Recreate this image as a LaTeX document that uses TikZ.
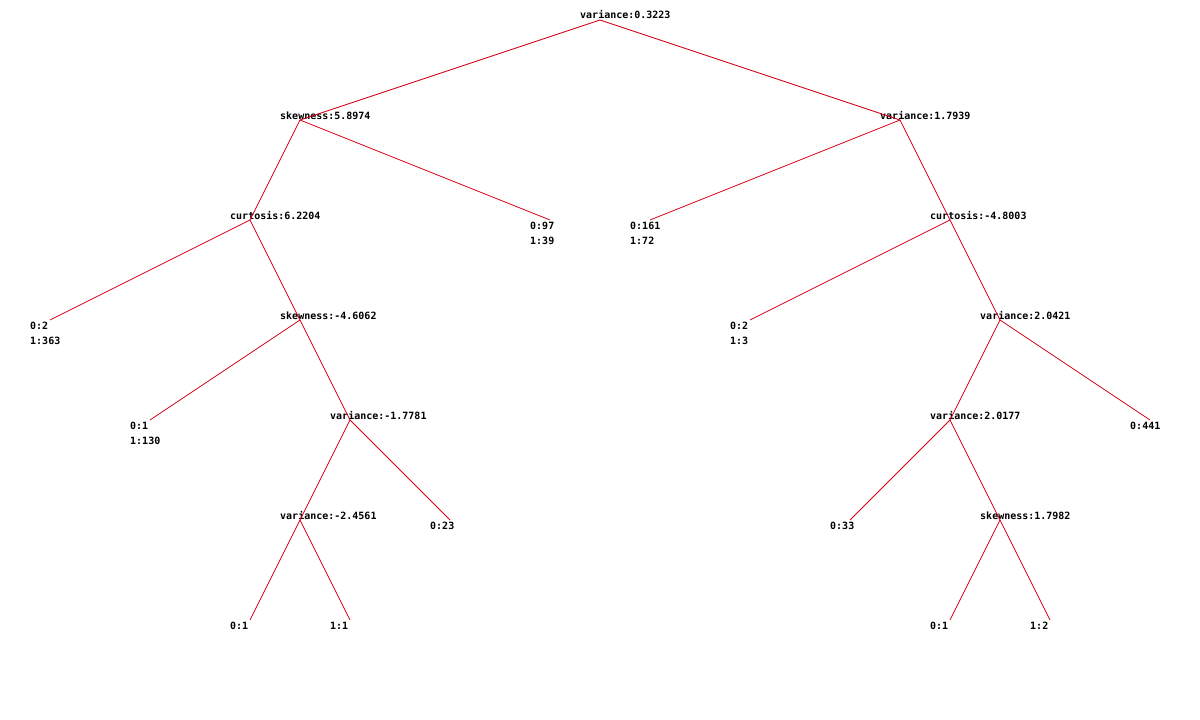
\documentclass[tikz,border=0pt]{standalone}
\usepackage{fontspec}
\setmonofont{DejaVu Sans Mono}
\usetikzlibrary{calc}
\definecolor{edgered}{RGB}{215,0,25}
\newcommand{\inode}[4]{\coordinate (#1) at (#2,#3);
  \node[lbl] (#1t) at ($(#1)+(-20,-1)$) {#4};}
\newcommand{\leafA}[4]{\coordinate (#1) at (#2,#3);
  \node[lbl] (#1t) at ($(#1)+(-20,9)$) {#4};}
\newcommand{\leafB}[5]{\coordinate (#1) at (#2,#3);
  \node[lbl] (#1t) at ($(#1)+(-20,9)$) {#4};
  \node[lbl] (#1u) at ($(#1)+(-20,24)$) {#5};}
\begin{document}
\begin{tikzpicture}[x=1pt,y=-1pt,
  lbl/.style={anchor=base west,inner sep=0pt,font=\ttfamily\bfseries\fontsize{10}{12}\selectfont},
  edge/.style={draw=edgered,line width=0.8pt}]
\useasboundingbox[fill=white] (0,0) rectangle (1200,720);
% level 0
\inode{r}{600}{20}{variance:0.3223}
% level 1
\inode{a}{300}{120}{skewness:5.8974}
\inode{b}{900}{120}{variance:1.7939}
% level 2
\inode{c}{250}{220}{curtosis:6.2204}
\leafB{l97}{550}{220}{0:97}{1:39}
\leafB{l161}{650}{220}{0:161}{1:72}
\inode{d}{950}{220}{curtosis:-4.8003}
% level 3
\leafB{l2a}{50}{320}{0:2}{1:363}
\inode{e}{300}{320}{skewness:-4.6062}
\leafB{l2b}{750}{320}{0:2}{1:3}
\inode{f}{1000}{320}{variance:2.0421}
% level 4
\leafB{l130}{150}{420}{0:1}{1:130}
\inode{g}{350}{420}{variance:-1.7781}
\inode{h}{950}{420}{variance:2.0177}
\leafA{l441}{1150}{420}{0:441}
% level 5
\inode{i}{300}{520}{variance:-2.4561}
\leafA{l23}{450}{520}{0:23}
\leafA{l33}{850}{520}{0:33}
\inode{j}{1000}{520}{skewness:1.7982}
% level 6
\leafA{m1}{250}{620}{0:1}
\leafA{m2}{350}{620}{1:1}
\leafA{m3}{950}{620}{0:1}
\leafA{m4}{1050}{620}{1:2}
% edges
\draw[edge] (r) -- (a);
\draw[edge] (r) -- (b);
\draw[edge] (a) -- (c);
\draw[edge] (a) -- (l97);
\draw[edge] (b) -- (l161);
\draw[edge] (b) -- (d);
\draw[edge] (c) -- (l2a);
\draw[edge] (c) -- (e);
\draw[edge] (d) -- (l2b);
\draw[edge] (d) -- (f);
\draw[edge] (e) -- (l130);
\draw[edge] (e) -- (g);
\draw[edge] (f) -- (h);
\draw[edge] (f) -- (l441);
\draw[edge] (g) -- (i);
\draw[edge] (g) -- (l23);
\draw[edge] (h) -- (l33);
\draw[edge] (h) -- (j);
\draw[edge] (i) -- (m1);
\draw[edge] (i) -- (m2);
\draw[edge] (j) -- (m3);
\draw[edge] (j) -- (m4);
\end{tikzpicture}
\end{document}
